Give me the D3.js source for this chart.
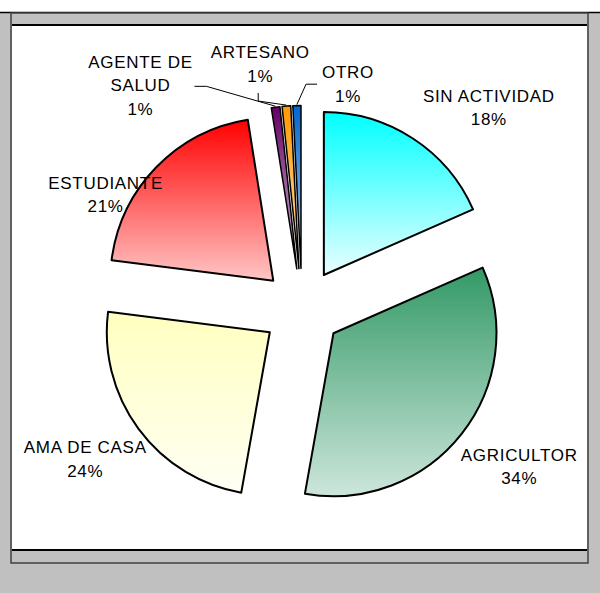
<!DOCTYPE html>
<html>
<head>
<meta charset="utf-8">
<script src="https://cdn.jsdelivr.net/npm/d3@7"></script>
<style>
  body { margin: 0; background: #fff; }
  text { font-family: "Liberation Sans", Arial, sans-serif; }
</style>
</head>
<body>
<div id="chart"></div>
<script>
// data (percent of total), clockwise from 12 o'clock
var categories = ["SIN ACTIVIDAD", "AGRICULTOR", "AMA DE CASA", "ESTUDIANTE", "AGENTE DE SALUD", "ARTESANO", "OTRO"];
var values = [18.4, 34.4, 24.2, 20.5, 0.85, 0.85, 0.8];
var labelLines = [["SIN ACTIVIDAD"], ["AGRICULTOR"], ["AMA DE CASA"], ["ESTUDIANTE"], ["AGENTE DE", "SALUD"], ["ARTESANO"], ["OTRO"]];

// gradient colours, top -> bottom
var colorTop = ["#00ffff", "#339966", "#ffffc0", "#ff0000", "#660066", "#ff9900", "#0066cc"];
var colorBottom = ["#eaffff", "#cde6dc", "#fffff4", "#ffc6c6", "#d8c0dc", "#ffe2b8", "#b8d4f2"];

var width = 600, height = 593;
var cx = 302, cy = 308.5, radius = 163, explode = 40;

// label placement, polar around the pie centre (deg clockwise from top, px)
var labelPolar = {
    "SIN ACTIVIDAD": [42.9, 274.5],
    "AGRICULTOR": [126, 268.5],
    "AMA DE CASA": [235.2, 264],
    "ESTUDIANTE": [300.1, 227],
    "AGENTE DE SALUD": [324.1, 275.5],
    "ARTESANO": [350.3, 248],
    "OTRO": [11.6, 229]
};
// leader lines for the thin slices: start offset from label centre, then elbow offset
var leaders = {
    "AGENTE DE SALUD": [[54, 1], [12, 0]],
    "ARTESANO": [[-2, 29], [0, 8]],
    "OTRO": [[-31, 0], [-11, 0]]
};

var svg = d3.select("#chart").append("svg")
    .attr("width", width)
    .attr("height", height);

// chart-area frame (grey, old spreadsheet style)
svg.append("rect").attr("x", 0).attr("y", 12).attr("width", width).attr("height", height - 12).attr("fill", "#c0c0c0");
svg.append("line").attr("x1", 0).attr("x2", width).attr("y1", 12.5).attr("y2", 12.5).attr("stroke", "#000").attr("stroke-width", 1.5);
svg.append("rect").attr("x", 11).attr("y", 13).attr("width", 577).attr("height", 550)
    .attr("fill", "#c0c0c0").attr("stroke", "#404040").attr("stroke-width", 1.5);
svg.append("rect").attr("x", 12).attr("y", 25).attr("width", 575).attr("height", 525).attr("fill", "#fff");
svg.append("line").attr("x1", 12).attr("x2", 587).attr("y1", 25).attr("y2", 25).attr("stroke", "#000").attr("stroke-width", 2);
svg.append("line").attr("x1", 12).attr("x2", 587).attr("y1", 550).attr("y2", 550).attr("stroke", "#000").attr("stroke-width", 2);

var defs = svg.append("defs");
categories.forEach(function(c, i) {
    var grad = defs.append("linearGradient")
        .attr("id", "grad" + i)
        .attr("x1", 0).attr("y1", 0).attr("x2", 0).attr("y2", 1);
    grad.append("stop").attr("offset", "0%").attr("stop-color", colorTop[i]);
    grad.append("stop").attr("offset", "100%").attr("stop-color", colorBottom[i]);
});

var pie = d3.pie().sort(null).value(function(d) { return d.value; });
var arc = d3.arc().innerRadius(0).outerRadius(radius);

var slices = pie(categories.map(function(c, i) {
    return { name: c, value: values[i], idx: i };
}));

function midAngle(d) { return (d.startAngle + d.endAngle) / 2; }
function offset(d) {
    var a = midAngle(d);
    return [Math.sin(a) * explode, -Math.cos(a) * explode];
}

var g = svg.append("g").attr("transform", "translate(" + cx + "," + cy + ")");

g.selectAll(".slice")
    .data(slices)
    .enter().append("path")
    .attr("class", "slice")
    .attr("transform", function(d) { return "translate(" + offset(d) + ")"; })
    .attr("d", arc)
    .attr("fill", function(d) { return "url(#grad" + d.data.idx + ")"; })
    .attr("stroke", "#000")
    .attr("stroke-width", function(d) { return d.value < 2 ? 1.5 : 2; })
    .attr("stroke-linejoin", "round");

function labelCenter(name) {
    var p = labelPolar[name];
    var a = p[0] * Math.PI / 180;
    return [Math.sin(a) * p[1], -Math.cos(a) * p[1]];
}

// leaders for the 1% slices
slices.forEach(function(d) {
    var l = leaders[d.data.name];
    if (!l) return;
    var c = labelCenter(d.data.name);
    var start = [c[0] + l[0][0], c[1] + l[0][1]];
    var elbow = [start[0] + l[1][0], start[1] + l[1][1]];
    var a = midAngle(d), o = offset(d);
    var end = [o[0] + Math.sin(a) * (radius + 1), o[1] - Math.cos(a) * (radius + 1)];
    g.append("path")
        .attr("d", d3.line()([start, elbow, end]))
        .attr("fill", "none")
        .attr("stroke", "#000")
        .attr("stroke-width", 1);
});

// labels
var lineH = 23.5;
slices.forEach(function(d) {
    var lines = labelLines[d.data.idx].concat([Math.round(d.value) + "%"]);
    var c = labelCenter(d.data.name);
    var t = g.append("text")
        .attr("text-anchor", "middle")
        .style("font-size", "17px")
        .style("letter-spacing", "0.7px")
        .attr("fill", "#000");
    lines.forEach(function(s, k) {
        t.append("tspan")
            .attr("x", c[0])
            .attr("y", c[1] + (k - (lines.length - 1) / 2) * lineH)
            .attr("dy", "0.35em")
            .text(s);
    });
});
</script>
</body>
</html>
